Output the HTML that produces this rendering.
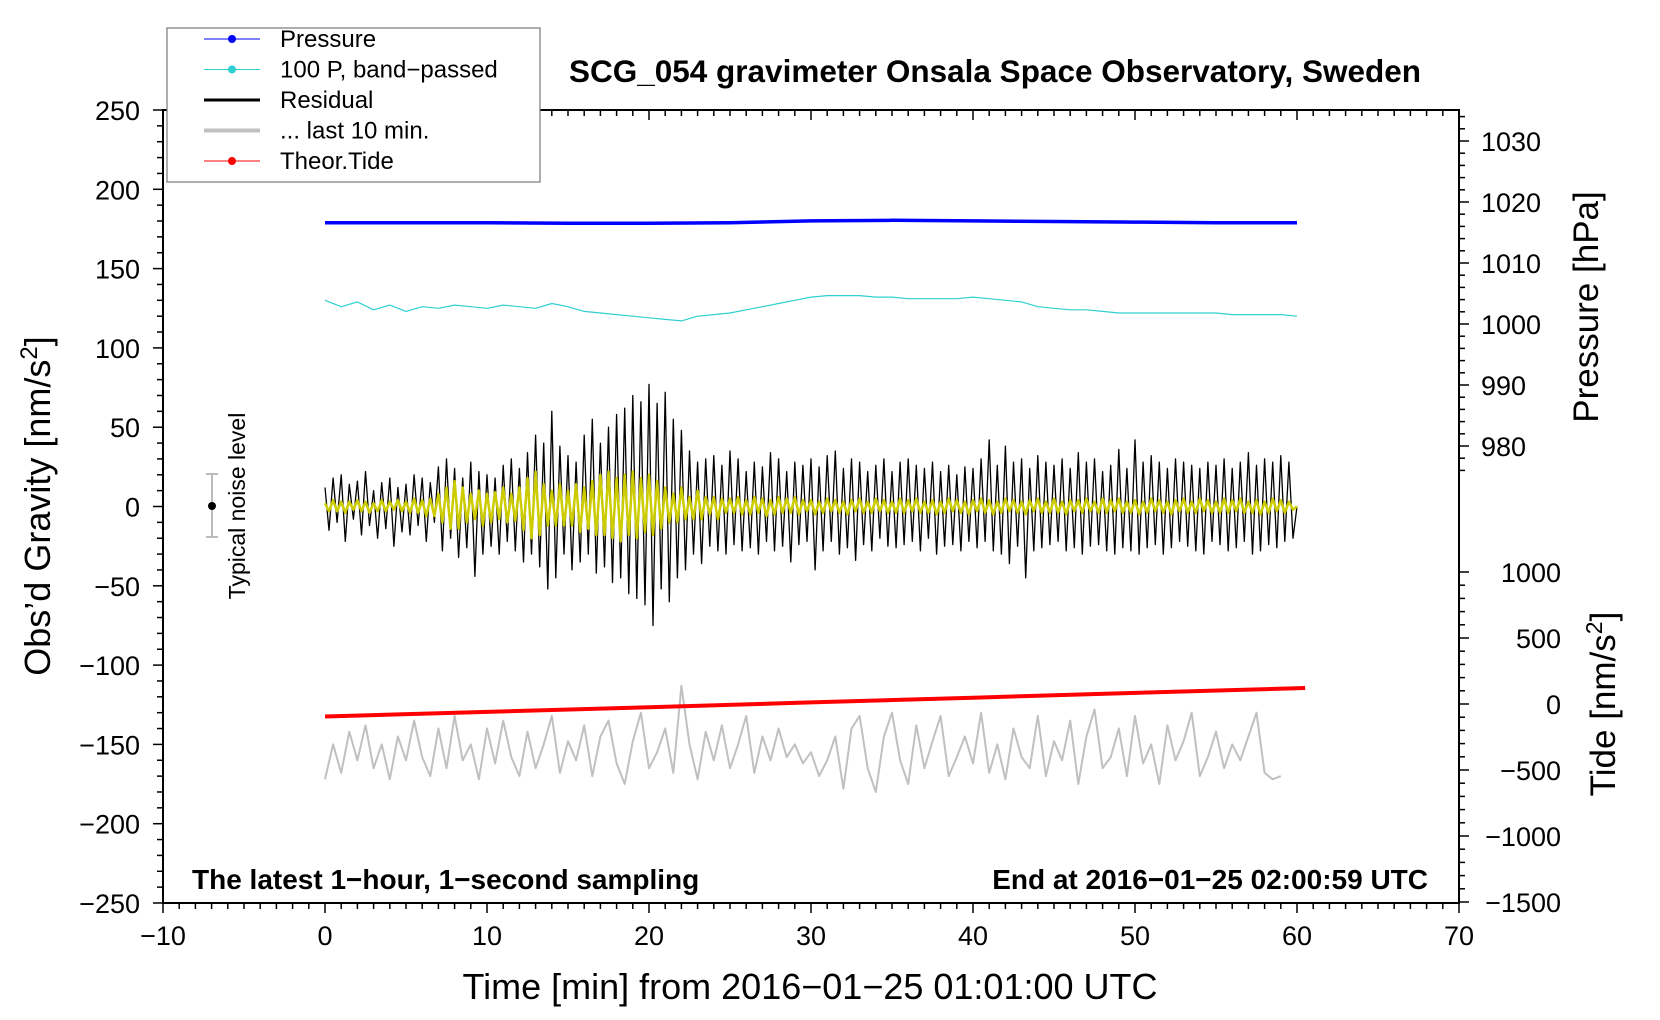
<!DOCTYPE html>
<html><head><meta charset="utf-8"><style>
html,body{margin:0;padding:0;background:#fff;}
svg{display:block;font-family:"Liberation Sans",sans-serif;}
</style></head><body>
<svg id="chart" width="1660" height="1020" viewBox="0 0 1660 1020">
<g id="axes"></g>
<g id="series"></g>
<g id="legend"></g>
</svg>
<script>
// ---- data ----
const pressureTimes = [0,5,10,15,20,25,30,35,40,45,50,55,60];
const pressureValues = [1016.6,1016.6,1016.6,1016.5,1016.5,1016.6,1016.9,1017,1016.9,1016.8,1016.7,1016.6,1016.6];
const cyanValues = [130,126,129,124,127,123,126,125,127,126,
125,127,126,125,128,126,123,122,121,120,
119,118,117,120,121,122,124,126,128,130,
132,133,133,133,132,132,131,131,131,131,
132,131,130,129,126,125,124,124,123,122,
122,122,122,122,122,122,121,121,121,121,120];
const residualValues = [12,-15,18,-10,20,-22,14,-8,16,-18,22,-12,10,-20,15,-14,18,-25,12,-16,
14,-18,20,-12,18,-22,15,-10,25,-28,30,-20,24,-32,18,-26,28,-44,22,-30,
20,-25,18,-30,26,-22,30,-28,24,-35,34,-30,45,-38,40,-52,60,-45,38,-30,
32,-40,28,-35,45,-30,55,-42,40,-38,50,-48,58,-45,62,-55,70,-58,66,-62,
77,-75,65,-52,72,-60,55,-45,48,-40,35,-30,28,-36,30,-25,32,-28,26,-30,
35,-24,30,-28,22,-26,28,-30,25,-22,34,-28,30,-25,22,-35,28,-24,26,-22,
30,-40,25,-28,32,-22,35,-30,24,-26,30,-34,28,-24,22,-28,26,-20,30,-25,
22,-26,28,-24,30,-22,26,-28,24,-20,28,-30,22,-25,26,-24,20,-28,25,-22,
24,-26,30,-22,42,-28,26,-30,38,-36,28,-25,30,-45,24,-28,32,-26,28,-24,
26,-22,30,-28,24,-26,34,-30,28,-25,30,-24,22,-28,26,-30,36,-26,24,-28,
42,-30,28,-26,32,-24,28,-30,24,-26,30,-22,28,-25,26,-28,24,-30,28,-22,
26,-24,30,-28,24,-26,28,-22,34,-30,26,-28,30,-24,28,-26,32,-22,28,-20,0];
const smoothValues = [2,-3,4,-3,3,-4,3,-2,4,-3,3,-4,2,-3,4,-3,3,-2,4,-3,
3,-4,5,-4,4,-6,5,-6,8,-10,12,-14,16,-14,12,-10,8,-8,10,-12,
8,-10,9,-8,12,-10,8,-9,12,-15,18,-20,22,-18,14,-12,10,-12,14,-12,
10,-12,14,-16,12,-14,16,-18,20,-18,22,-20,18,-22,20,-18,22,-20,18,-16,
20,-18,16,-14,12,-10,8,-10,12,-8,6,-8,10,-8,6,-5,6,-8,5,-4,
5,-4,6,-5,4,-5,6,-4,5,-6,4,-5,6,-4,5,-4,6,-5,4,-3,
4,-5,3,-4,5,-3,4,-4,3,-5,4,-3,5,-4,3,-4,5,-3,4,-4,
3,-4,5,-4,4,-3,5,-4,3,-4,4,-5,3,-4,5,-3,4,-4,3,-5,
4,-3,5,-4,4,-5,3,-4,5,-3,4,-4,3,-5,4,-3,5,-4,3,-4,
5,-4,3,-5,4,-3,4,-4,5,-3,3,-4,5,-4,4,-3,5,-4,3,-4,
4,-5,3,-4,5,-3,4,-4,3,-5,4,-3,5,-4,3,-4,5,-3,4,-4,
3,-4,5,-4,4,-3,5,-4,3,-4,4,-5,3,-4,5,-3,4,-4,3,-2,0];
const grayValues = [-172,-150,-168,-142,-160,-138,-165,-150,-172,-145,-160,-135,-158,-170,-140,-165,-132,-160,-150,-172,
-140,-162,-135,-158,-170,-142,-165,-150,-132,-168,-148,-160,-138,-170,-145,-135,-162,-175,-148,-130,
-165,-155,-140,-168,-113,-150,-172,-142,-160,-138,-165,-150,-132,-168,-145,-160,-140,-158,-150,-162,
-155,-170,-160,-145,-178,-140,-132,-165,-180,-145,-130,-160,-175,-138,-165,-148,-132,-170,-158,-145,
-162,-130,-168,-150,-172,-140,-158,-165,-132,-170,-148,-160,-135,-175,-145,-128,-165,-158,-140,-170,
-132,-162,-150,-175,-138,-160,-148,-130,-170,-158,-142,-165,-150,-160,-145,-130,-168,-172,-170];
const tideTimes = [0,10,20,30,40,50,60.5];
const tideValues = [-95,-60,-24,12,48,84,121];
const xTicks = [-10,0,10,20,30,40,50,60,70];
const gTicks = [250,200,150,100,50,0,-50,-100,-150,-200,-250];
const pTicks = [1030,1020,1010,1000,990,980];
const tTicks = [1000,500,0,-500,-1000,-1500];

// ---- scales ----
const X0=163,X1=1459,Y0=110,Y1=903;
const xs = t => X0 + (t+10)/80*(X1-X0);
const gs = g => Y0 + (250-g)/500*(Y1-Y0);
const ps = p => 141 + (1030-p)*6.1;
const ts = v => 704 - v*0.132;
const NS="http://www.w3.org/2000/svg";
function mk(tag,attrs,parent,text){const e=document.createElementNS(NS,tag);for(const k in attrs)e.setAttribute(k,attrs[k]);if(text!==undefined)e.textContent=text;parent.appendChild(e);return e;}
const axes=document.getElementById('axes'),series=document.getElementById('series'),legend=document.getElementById('legend');

let fr=mk('rect',{x:X0,y:Y0,width:X1-X0,height:Y1-Y0,fill:'none',stroke:'#000','stroke-width':2},axes);


for(let t=-10;t<=70;t++){const major=t%10===0;const x=xs(t);
 mk('line',{x1:x,x2:x,y1:Y1,y2:Y1+(major?10:6),stroke:'#000','stroke-width':1.5},axes);
 mk('line',{x1:x,x2:x,y1:Y0,y2:Y0+(major?10:6),stroke:'#000','stroke-width':1.5},axes);}
xTicks.forEach(t=>{const e=mk('text',{x:xs(t),y:945,'font-size':27,'text-anchor':'middle'},axes,String(t).replace('-','\u2212'));
 
 });
for(let g=-250;g<=250;g+=10){const y=gs(g);const major=g%50===0;
 mk('line',{x1:X0-(major?10:6),x2:X0,y1:y,y2:y,stroke:'#000','stroke-width':1.5},axes);}
gTicks.forEach(g=>{const e=mk('text',{x:140,y:gs(g)+10,'font-size':27,'text-anchor':'end'},axes,String(g).replace('-','\u2212'));
 
 });
for(let p=976;p<=1034;p+=2){const y=ps(p);if(y<Y0)continue;const major=p%10===0;
 mk('line',{x1:X1,x2:X1+(major?10:6),y1:y,y2:y,stroke:'#000','stroke-width':1.5},axes);}
pTicks.forEach(p=>{const e=mk('text',{x:1481,y:ps(p)+10,'font-size':27},axes,String(p));
 
 });
for(let v=-1500;v<=1100;v+=100){const y=ts(v);if(y>Y1||y<560)continue;const major=v%500===0;
 mk('line',{x1:X1,x2:X1+(major?10:6),y1:y,y2:y,stroke:'#000','stroke-width':1.5},axes);}
tTicks.forEach(v=>{const e=mk('text',{x:1561,y:ts(v)+10,'font-size':27,'text-anchor':'end'},axes,String(v).replace('-','\u2212'));
 
 });

function poly(pts,color,w,name){const e=mk('polyline',{points:pts.map(p=>p[0].toFixed(1)+','+p[1].toFixed(1)).join(' '),fill:'none',stroke:color,'stroke-width':w,'stroke-linejoin':'round'},series);
 
 return e;}
poly(grayValues.map((v,i)=>[xs(i*0.5),gs(v)]),'#c0c0c0',2,'last-10-min-line');
poly(tideTimes.map((t,i)=>[xs(t),ts(tideValues[i])]),'#ff0000',4,'theor-tide-line');
poly(residualValues.map((v,i)=>[xs(i*0.25),gs(v)]),'#000',1.3,'residual-line');
poly(smoothValues.map((v,i)=>[xs(i*0.25),gs(v)]),'#cccc00',2.5,'smoothed-residual-line');
poly(cyanValues.map((v,i)=>[xs(i),gs(v)]),'#30d0d0',1.2,'pressure-bandpassed-line');
poly(pressureTimes.map((t,i)=>[xs(t),ps(pressureValues[i])]),'#0000ff',3.5,'pressure-line');
</script>
<script>
(function(){
const s=document.getElementById('chart');const NS="http://www.w3.org/2000/svg";
function t(attrs,txt,name){const e=document.createElementNS(NS,'text');for(const k in attrs)e.setAttribute(k,attrs[k]);e.textContent=txt;s.appendChild(e);
 
 return e;}
t({x:995,y:82,'font-size':31.5,'font-weight':'bold','text-anchor':'middle'},'SCG_054 gravimeter Onsala Space Observatory, Sweden','chart-title');
t({x:192,y:889,'font-size':28,'font-weight':'bold'},'The latest 1\u2212hour, 1\u2212second sampling','sampling-note');
t({x:1428,y:889,'font-size':28,'font-weight':'bold','text-anchor':'end'},'End at 2016\u221201\u221225 02:00:59 UTC','end-time-note');
t({x:810,y:999,'font-size':36,'text-anchor':'middle'},'Time [min] from 2016\u221201\u221225 01:01:00 UTC','x-axis-title');
const yl=t({x:0,y:0,'font-size':36,'text-anchor':'middle',transform:'translate(50,506) rotate(-90)'},'','y-axis-title');
yl.innerHTML='Obs\u2019d Gravity [nm/s<tspan dy="-13" font-size="24">2</tspan><tspan dy="13">]</tspan>';
t({x:0,y:0,'font-size':35,'text-anchor':'middle',transform:'translate(1598,307) rotate(-90)'},'Pressure [hPa]','pressure-axis-title');
const tl=t({x:0,y:0,'font-size':35,'text-anchor':'middle',transform:'translate(1615,704) rotate(-90)'},'','tide-axis-title');
tl.innerHTML='Tide [nm/s<tspan dy="-13" font-size="23">2</tspan><tspan dy="13">]</tspan>';
t({x:0,y:0,'font-size':23,'text-anchor':'middle',transform:'translate(245,506) rotate(-90)'},'Typical noise level','noise-level-label');
const g=document.createElementNS(NS,'g');s.appendChild(g);


g.innerHTML='<line x1="212" x2="212" y1="474" y2="537" stroke="#bbb" stroke-width="2"/><line x1="206" x2="218" y1="474" y2="474" stroke="#bbb" stroke-width="2"/><line x1="206" x2="218" y1="537" y2="537" stroke="#bbb" stroke-width="2"/><circle cx="212" cy="506" r="4" fill="#000"/>';
const L=document.getElementById('legend');s.appendChild(L);
const box=document.createElementNS(NS,'rect');
box.setAttribute('x',167);box.setAttribute('y',28);box.setAttribute('width',373);box.setAttribute('height',154);
box.setAttribute('fill','#fff');box.setAttribute('stroke','#777');box.setAttribute('stroke-width',1.2);


L.appendChild(box);
const items=[['Pressure','#0000ff',1,true],['100 P, band\u2212passed','#30d0d0',1,true],['Residual','#000',3,false],['... last 10 min.','#c0c0c0',4,false],['Theor.Tide','#ff0000',1,true]];
items.forEach((it,i)=>{const y=39+i*30.5;const e=document.createElementNS(NS,'g');
 
 
 e.innerHTML='<line x1="204" x2="260" y1="'+y+'" y2="'+y+'" stroke="'+it[1]+'" stroke-width="'+it[2]+'"/>'+(it[3]?'<circle cx="232" cy="'+y+'" r="4" fill="'+it[1]+'"/>':'')+'<text x="280" y="'+(y+8)+'" font-size="24">'+it[0]+'</text>';
 L.appendChild(e);});
})();
</script>
</body></html>
